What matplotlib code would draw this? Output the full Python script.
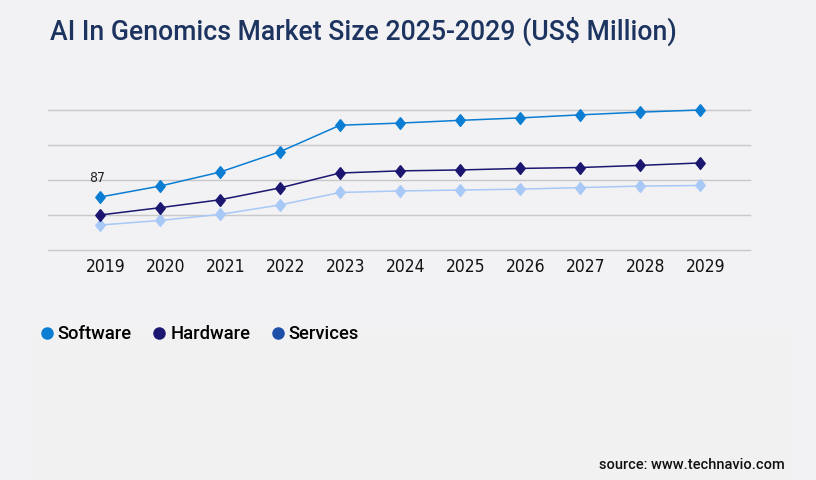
import matplotlib.pyplot as plt
import matplotlib.transforms as mtransforms
from matplotlib.lines import Line2D
from matplotlib.patches import Rectangle

# _________________________________________________________________
# chart data (US$ million)
years = [2019, 2020, 2021, 2022, 2023, 2024, 2025, 2026, 2027, 2028, 2029]
software = [87, 105, 128, 161.5, 205, 208.5, 213, 217, 222, 226.5, 230]
hardware = [57.5, 69.5, 82.5, 102, 126.5, 130, 131.5, 134, 135.5, 139, 143]
services = [41, 48.5, 58.5, 74, 94.5, 97, 98.5, 100, 102.5, 105, 106]
grid_values = [0, 57.5, 115, 172.5, 230]
series_names = ["Software", "Hardware", "Services"]
# _________________________________________________________________

line_colors = ["#0b7dd3", "#1b1670", "#a8c8f6"]
legend_colors = ["#0b7dd3", "#1b1670", "#1e4fa9"]
bg = "#f2f2f4"
diamond = [(0, 1), (0.8, 0), (0, -1), (-0.8, 0), (0, 1)]
narrow = ["Liberation Sans Narrow", "DejaVu Sans"]

fig = plt.figure(figsize=(8.16, 4.8), dpi=100, facecolor=bg)

# faint lower panel behind legend / source
fig.patches.append(Rectangle((30 / 816, 0), 762 / 816, 150 / 480,
                             transform=fig.transFigure, facecolor="#f1f1f1",
                             edgecolor="none", zorder=0))

ax = fig.add_axes([48 / 816, 230 / 480, 702 / 816, 140 / 480])
ax.set_facecolor("none")
for s in ax.spines.values():
    s.set_visible(False)

for v in grid_values:
    ax.axhline(v, color="#c8c8c8", lw=1, zorder=1, clip_on=False)

for vals, c in zip([services, hardware, software], line_colors[::-1]):
    ax.plot(years, vals, color=c, lw=1.1, marker=diamond, markersize=8.5,
            zorder=3, clip_on=False)

ax.annotate(f"{software[0]:g}", (years[0], software[0]), xytext=(-2, 9),
            textcoords="offset points", ha="center", va="bottom",
            fontsize=10, color="#222222", family=narrow, fontstretch="condensed")

ax.set_xlim(2019 - 52 / 60, 2029 + 50 / 60)
ax.set_ylim(0, 230)
ax.set_yticks([])
ax.set_xticks(years)
ax.set_xticklabels([str(y) for y in years], fontsize=12.5, color="#111111",
                   family=narrow, fontstretch="condensed")
ax.tick_params(axis="x", length=0, pad=6)
shift = mtransforms.ScaledTranslation(6 / 100, 0, fig.dpi_scale_trans)
for lab in ax.get_xticklabels():
    lab.set_transform(lab.get_transform() + shift)

fig.text(50 / 816, 1 - 31 / 480, "AI In Genomics Market Size 2025-2029 (US$ Million)",
         fontsize=19.2, color="#1c345f", family="Roboto", weight="medium",
         ha="left", va="center")

handles = [Line2D([], [], ls="none", marker="o", markersize=8, color=c)
           for c in legend_colors]
fig.legend(handles, series_names, loc="center left",
           bbox_to_anchor=(41 / 816, 1 - 334 / 480), ncol=3, frameon=False,
           prop={"family": "Roboto", "size": 13.2, "weight": "medium"},
           handletextpad=0.3, columnspacing=1.2, handlelength=0.6,
           borderaxespad=0, borderpad=0)

fig.text(785 / 816, 1 - 465 / 480, "source: www.technavio.com", fontsize=10.5,
         color="#111111", family="Roboto", weight="medium",
         ha="right", va="center")

fig.savefig("out.png", dpi=100, facecolor=bg)
